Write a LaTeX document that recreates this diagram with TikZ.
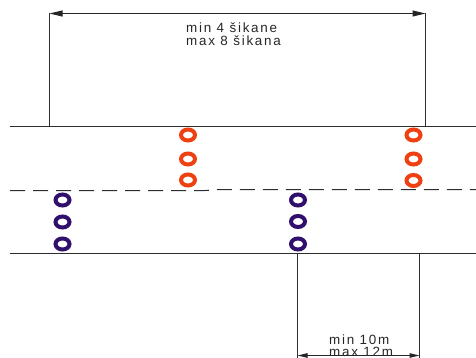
\documentclass[tikz,border=0pt]{standalone}
\usepackage{fontspec}
\setmainfont{Liberation Sans}
\newfontfamily\dimfont[LetterSpace=13]{Liberation Sans}
\usetikzlibrary{arrows.meta,shapes.geometric}
\definecolor{ringred}{RGB}{238,64,18}
\definecolor{ringpurple}{RGB}{48,16,108}
\definecolor{roadgray}{RGB}{45,45,45}
\begin{document}
\begin{tikzpicture}[x=1pt,y=-1pt,
  redring/.style={draw=ringred,line width=4pt,ellipse,minimum width=14pt,minimum height=11pt,inner sep=0pt},
  purplering/.style={draw=ringpurple,line width=4pt,ellipse,minimum width=14pt,minimum height=11pt,inner sep=0pt},
  road/.style={draw=roadgray,line width=1pt},
  helper/.style={draw=roadgray,line width=0.9pt},
  dimtext/.style={font=\dimfont\fontsize{13.4}{14}\selectfont,anchor=base west,inner sep=0pt,text=black!85},
  bigdim/.style={draw=black!85,line width=1pt,{Triangle[length=13pt,width=6pt]}-{Triangle[length=13pt,width=6pt]}},
  smalldim/.style={draw=black!85,line width=1pt,{Triangle[length=10pt,width=4.5pt]}-{Triangle[length=10pt,width=4.5pt]}}]
\useasboundingbox (0,0) rectangle (476,358);
% road edges
\coordinate (tl) at (10,126.5);
\coordinate (tr) at (476,126.5);
\coordinate (bl) at (10,253.5);
\coordinate (br) at (476,253.5);
\draw[road] (tl) -- (tr);
\draw[road] (bl) -- (br);
% centre dashed line
\coordinate (dl) at (10,190.5);
\coordinate (dk1) at (205,190.5);
\coordinate (dk2) at (220,189.5);
\coordinate (dr) at (476,189.5);
\draw[road,dash pattern=on 15pt off 8pt] (dl) -- (dk1) -- (dk2) -- (dr);
% top dimension
\coordinate (ta) at (49.5,13.5);
\coordinate (tb) at (425.5,13.5);
\coordinate (ta0) at (49.5,126.5);
\coordinate (tb0) at (425.5,126.5);
\draw[helper] (ta0) -- (ta);
\draw[helper] (tb0) -- (tb);
\draw[bigdim] (ta) -- (tb);
\node[dimtext] (t1) at (186,32.5) {min 4 šikane};
\node[dimtext] (t2) at (186,45.5) {max 8 šikana};
% bottom dimension
\coordinate (ba0) at (297.5,253.5);
\coordinate (bb0) at (419.5,253.5);
\coordinate (ba) at (297.5,355.5);
\coordinate (bb) at (419.5,355.5);
\coordinate (ba1) at (297.5,358);
\coordinate (bb1) at (419.5,358);
\draw[helper] (ba0) -- (ba1);
\draw[helper] (bb0) -- (bb1);
\draw[smalldim] (ba) -- (bb);
\node[dimtext] (b1) at (329,344) {min 10m};
\node[dimtext] (b2) at (329,356) {max 12m};
% red rings
\node[redring] (r1) at (188,135) {};
\node[redring] (r2) at (188,159) {};
\node[redring] (r3) at (188,180) {};
\node[redring] (r4) at (413.5,135) {};
\node[redring] (r5) at (413.5,159) {};
\node[redring] (r6) at (413.5,180.5) {};
% purple rings
\node[purplering] (p1) at (62.5,200) {};
\node[purplering] (p2) at (62.5,222) {};
\node[purplering] (p3) at (62.5,244) {};
\node[purplering] (p4) at (298,200) {};
\node[purplering] (p5) at (298,221.5) {};
\node[purplering] (p6) at (298,244) {};
\end{tikzpicture}
\end{document}
